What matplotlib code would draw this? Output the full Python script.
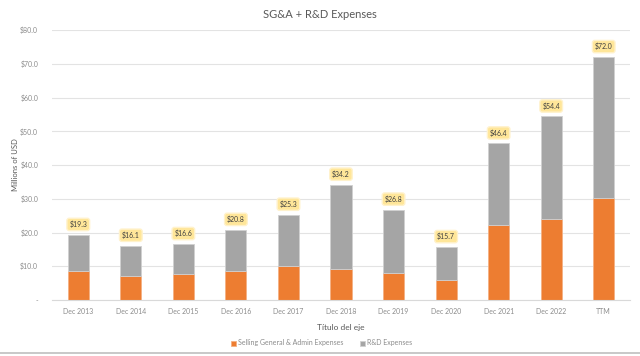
import matplotlib.pyplot as plt
import numpy as np

categories = ["Dec 2013", "Dec 2014", "Dec 2015", "Dec 2016", "Dec 2017", "Dec 2018",
              "Dec 2019", "Dec 2020", "Dec 2021", "Dec 2022", "TTM"]
totals = [19.3, 16.1, 16.6, 20.8, 25.3, 34.2, 26.8, 15.7, 46.4, 54.4, 72.0]
sga = [8.7, 7.1, 7.8, 8.5, 10.0, 9.3, 8.0, 5.8, 22.2, 23.9, 30.1]
rnd = [round(t - s, 1) for t, s in zip(totals, sga)]
yticks = [0, 10, 20, 30, 40, 50, 60, 70, 80]

ORANGE = "#ED7D31"
GRAY = "#A5A5A5"
TXT = "#8C8C8C"

plt.rcParams['font.family'] = ['Lato', 'DejaVu Sans']

fig = plt.figure(figsize=(6.4, 3.56), dpi=100)
ax = fig.add_axes([52 / 640, 56 / 356, 578 / 640, 270 / 356])

x = np.arange(len(categories))
ax.bar(x, sga, width=0.4, color=ORANGE, edgecolor="#F4B183", linewidth=0.6,
       label="Selling General & Admin Expenses", zorder=3)
ax.bar(x, rnd, width=0.4, bottom=sga, color=GRAY, edgecolor="#D0D0D0", linewidth=0.6,
       label="R&D Expenses", zorder=3)

# yellow total labels above each stack
for xi, t in zip(x, totals):
    ax.annotate(f"${t:.1f}", (xi, t), xytext=(0, 7.5), textcoords="offset points",
                ha="center", va="center", fontsize=5, color="#404040",
                bbox=dict(boxstyle="round,pad=0.35", facecolor="#FFE699",
                          edgecolor="#FFF2CC", linewidth=1.0))

ax.set_xlim(-0.5, len(categories) - 0.5)
ax.set_ylim(0, 80)
ax.set_yticks(yticks)
ax.set_yticklabels(["-" if v == 0 else f"${v:.1f}" for v in yticks])
ax.set_xticks(x)
ax.set_xticklabels(categories)
ax.tick_params(axis="both", length=0, labelsize=5, colors=TXT)
ax.tick_params(axis="x", pad=6)
ax.tick_params(axis="y", pad=10)
ax.grid(axis="y", color="#E3E3E3", linewidth=0.8, zorder=0)
for side in ["top", "right", "left"]:
    ax.spines[side].set_visible(False)
ax.spines["bottom"].set_color("#D9D9D9")
ax.spines["bottom"].set_zorder(4)

ax.set_xlabel("Título del eje", fontsize=6, color="#595959", labelpad=6)
fig.text(15 / 640, 1 - 165 / 356, "Millions of USD", rotation=90, ha="center",
         va="center", fontsize=5.5, color="#595959")
fig.text(0.5, 1 - 14 / 356, "SG&A + R&D Expenses", ha="center", va="center",
         fontsize=8, color="#595959")

leg = fig.legend(loc="center", bbox_to_anchor=(322 / 640, 1 - 343 / 356), ncol=2,
                 frameon=False, fontsize=5, handlelength=0.7, handleheight=0.7,
                 handletextpad=0.3, columnspacing=2.4)
for t in leg.get_texts():
    t.set_color(TXT)

fig.add_artist(plt.Line2D([0, 1], [1 - 353 / 356] * 2, color="#BFBFBF", linewidth=1.2))

fig.savefig("out.png", dpi=100)
